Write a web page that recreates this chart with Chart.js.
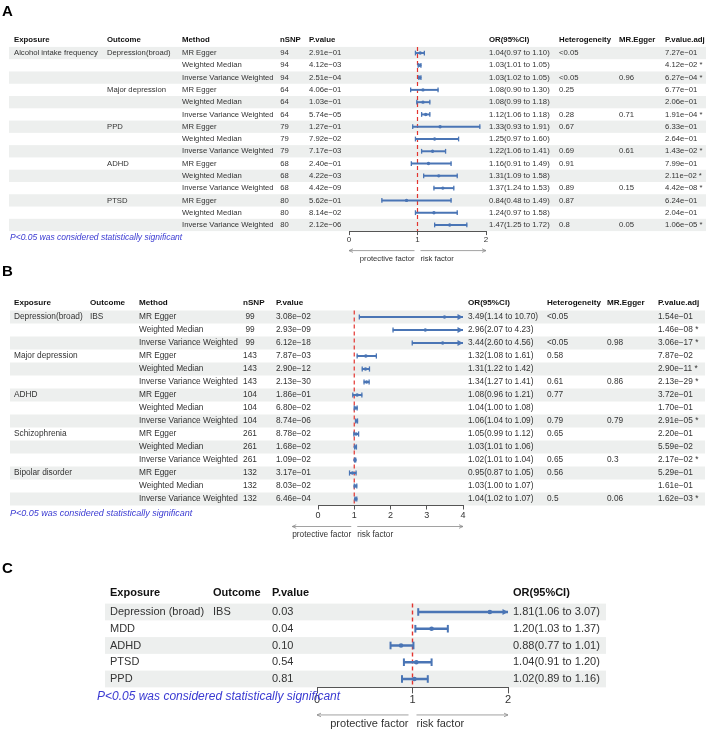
<!DOCTYPE html>
<html>
<head>
<meta charset="utf-8">
<script src="https://cdn.jsdelivr.net/npm/chart.js@4.4.1/dist/chart.umd.min.js"></script>
<style>
  body { margin: 0; background: #fff; width: 709px; height: 732px; overflow: hidden; }
  canvas { position: absolute; left: 0; }
</style>
</head>
<body>
<canvas id="panelA" width="709" height="265" style="top:0px"></canvas>
<canvas id="panelB" width="709" height="286" style="top:262px"></canvas>
<canvas id="panelC" width="709" height="184" style="top:548px"></canvas>
<script>
// ---- panel A: alcohol intake frequency -> psychiatric outcomes
const aExposure = ["Alcohol intake frequency", "", "", "", "", "", "", "", "", "", "", "", "", "", ""];
const aOutcome = ["Depression(broad)", "", "", "Major depression", "", "", "PPD", "", "", "ADHD", "", "", "PTSD", "", ""];
const aMethod = ["MR Egger", "Weighted Median", "Inverse Variance Weighted",
  "MR Egger", "Weighted Median", "Inverse Variance Weighted",
  "MR Egger", "Weighted Median", "Inverse Variance Weighted",
  "MR Egger", "Weighted Median", "Inverse Variance Weighted",
  "MR Egger", "Weighted Median", "Inverse Variance Weighted"];
const aNsnp = [94, 94, 94, 64, 64, 64, 79, 79, 79, 68, 68, 68, 80, 80, 80];
const aPvalue = ["2.91e-01", "4.12e-03", "2.51e-04", "4.06e-01", "1.03e-01", "5.74e-05", "1.27e-01", "7.92e-02",
  "7.17e-03", "2.40e-01", "4.22e-03", "4.42e-09", "5.62e-01", "8.14e-02", "2.12e-06"];
const aOR = [1.04, 1.03, 1.03, 1.08, 1.08, 1.12, 1.33, 1.25, 1.22, 1.16, 1.31, 1.37, 0.84, 1.24, 1.47];
const aLower = [0.97, 1.01, 1.02, 0.90, 0.99, 1.06, 0.93, 0.97, 1.06, 0.91, 1.09, 1.24, 0.48, 0.97, 1.25];
const aUpper = [1.10, 1.05, 1.05, 1.30, 1.18, 1.18, 1.91, 1.60, 1.41, 1.49, 1.58, 1.53, 1.49, 1.58, 1.72];
const aHetero = ["<0.05", "", "<0.05", "0.25", "", "0.28", "0.67", "", "0.69", "0.91", "", "0.89", "0.87", "", "0.8"];
const aEgger = ["", "", "0.96", "", "", "0.71", "", "", "0.61", "", "", "0.15", "", "", "0.05"];
const aPadj = ["7.27e-01", "4.12e-02 *", "6.27e-04 *", "6.77e-01", "2.06e-01", "1.91e-04 *", "6.33e-01", "2.64e-01",
  "1.43e-02 *", "7.99e-01", "2.11e-02 *", "4.42e-08 *", "6.24e-01", "2.04e-01", "1.06e-05 *"];
const aTicks = [0, 1, 2];

// ---- panel B: psychiatric exposures -> IBS
const bExposure = ["Depression(broad)", "", "", "Major depression", "", "", "ADHD", "", "", "Schizophrenia", "", "", "Bipolar disorder", "", ""];
const bOutcome = ["IBS", "", "", "", "", "", "", "", "", "", "", "", "", "", ""];
const bMethod = aMethod.slice();
const bNsnp = [99, 99, 99, 143, 143, 143, 104, 104, 104, 261, 261, 261, 132, 132, 132];
const bPvalue = ["3.08e-02", "2.93e-09", "6.12e-18", "7.87e-03", "2.90e-12", "2.13e-30", "1.86e-01", "6.80e-02",
  "8.74e-06", "8.78e-02", "1.68e-02", "1.09e-02", "3.17e-01", "8.03e-02", "6.46e-04"];
const bOR = [3.49, 2.96, 3.44, 1.32, 1.31, 1.34, 1.08, 1.04, 1.06, 1.05, 1.03, 1.02, 0.95, 1.03, 1.04];
const bLower = [1.14, 2.07, 2.60, 1.08, 1.22, 1.27, 0.96, 1.00, 1.04, 0.99, 1.01, 1.01, 0.87, 1.00, 1.02];
const bUpper = [10.70, 4.23, 4.56, 1.61, 1.42, 1.41, 1.21, 1.08, 1.09, 1.12, 1.06, 1.04, 1.05, 1.07, 1.07];
const bHetero = ["<0.05", "", "<0.05", "0.58", "", "0.61", "0.77", "", "0.79", "0.65", "", "0.65", "0.56", "", "0.5"];
const bEgger = ["", "", "0.98", "", "", "0.86", "", "", "0.79", "", "", "0.3", "", "", "0.06"];
const bPadj = ["1.54e-01", "1.46e-08 *", "3.06e-17 *", "7.87e-02", "2.90e-11 *", "2.13e-29 *", "3.72e-01", "1.70e-01",
  "2.91e-05 *", "2.20e-01", "5.59e-02", "2.17e-02 *", "5.29e-01", "1.61e-01", "1.62e-03 *"];
const bTicks = [0, 1, 2, 3, 4];

// ---- panel C: summary
const cExposure = ["Depression (broad)", "MDD", "ADHD", "PTSD", "PPD"];
const cOutcome = ["IBS", "", "", "", ""];
const cPvalue = ["0.03", "0.04", "0.10", "0.54", "0.81"];
const cOR = [1.81, 1.20, 0.88, 1.04, 1.02];
const cLower = [1.06, 1.03, 0.77, 0.91, 0.89];
const cUpper = [3.07, 1.37, 1.01, 1.20, 1.16];
const cTicks = [0, 1, 2];

const FONT = "'Liberation Sans', Arial, Helvetica, sans-serif";
const blue = "#4a75b5";
const note = "P<0.05 was considered statistically significant";

function orText(or, lo, hi) {
  return or.map((v, i) => v.toFixed(2) + "(" + lo[i].toFixed(2) + " to " + hi[i].toFixed(2) + ")");
}
function sci(list) {
  return list.map(s => s.replace("-", "\u2212"));
}

const panels = {};

const forestTable = {
  id: "forestTable",
  beforeDraw(chart) {
    const o = panels[chart.canvas.id];
    const { ctx, chartArea } = chart;
    const ys = chart.scales.y;
    const half = (chartArea.bottom - chartArea.top) / o.or.length / 2;
    ctx.save();
    ctx.fillStyle = "#edefee";
    for (let i = 0; i < o.or.length; i += 2) {
      const c = ys.getPixelForValue(i);
      ctx.fillRect(o.shade[0], c - half, o.shade[1] - o.shade[0], half * 2);
    }
    ctx.restore();
  },
  beforeDatasetsDraw(chart) {
    const o = panels[chart.canvas.id];
    const { ctx, chartArea } = chart;
    const x1 = chart.scales.x.getPixelForValue(1);
    ctx.save();
    ctx.strokeStyle = "#e3342f";
    ctx.lineWidth = o.refW;
    ctx.setLineDash([4, 3]);
    ctx.beginPath();
    ctx.moveTo(x1, chartArea.top);
    ctx.lineTo(x1, chartArea.bottom);
    ctx.stroke();
    ctx.restore();
  },
  afterDatasetsDraw(chart) {
    // whisker caps, or an arrow head when the interval runs past the axis
    const o = panels[chart.canvas.id];
    const { ctx } = chart;
    const xs = chart.scales.x, ys = chart.scales.y;
    ctx.save();
    ctx.strokeStyle = blue;
    ctx.fillStyle = blue;
    ctx.lineWidth = o.lineW;
    o.lower.forEach((lo, i) => {
      const yc = ys.getPixelForValue(i);
      const xl = xs.getPixelForValue(lo);
      ctx.beginPath();
      ctx.moveTo(xl, yc - o.cap);
      ctx.lineTo(xl, yc + o.cap);
      ctx.stroke();
      if (o.upper[i] > xs.max) {
        const tip = xs.getPixelForValue(xs.max);
        ctx.beginPath();
        ctx.moveTo(tip, yc);
        ctx.lineTo(tip - o.head, yc - o.head * 0.55);
        ctx.lineTo(tip - o.head, yc + o.head * 0.55);
        ctx.closePath();
        ctx.fill();
      } else {
        const xh = xs.getPixelForValue(o.upper[i]);
        ctx.beginPath();
        ctx.moveTo(xh, yc - o.cap);
        ctx.lineTo(xh, yc + o.cap);
        ctx.stroke();
      }
    });
    ctx.restore();
  },
  afterDraw(chart) {
    const o = panels[chart.canvas.id];
    const { ctx, chartArea } = chart;
    const xs = chart.scales.x, ys = chart.scales.y;
    ctx.save();

    ctx.fillStyle = "#000";
    ctx.font = "bold 15px " + FONT;
    ctx.textAlign = "left";
    ctx.textBaseline = "alphabetic";
    ctx.fillText(o.letter, 2, o.letterY);

    ctx.textBaseline = "middle";
    ctx.font = "bold " + o.headFont + "px " + FONT;
    ctx.fillStyle = "#111";
    const hy = chartArea.top - o.headDy;
    o.columns.forEach(c => ctx.fillText(c.title, c.x, hy));

    ctx.font = o.font + "px " + FONT;
    ctx.fillStyle = "#333";
    o.columns.forEach(c => {
      ctx.textAlign = c.cx ? "center" : "left";
      c.cells.forEach((t, i) => ctx.fillText(String(t), c.cx || c.x, ys.getPixelForValue(i)));
    });

    // protective / risk arrows under the axis
    const x0 = xs.left, x1 = xs.getPixelForValue(1), x2 = xs.right;
    const wl = ctx.measureText("protective factor").width;
    const wr = ctx.measureText("risk factor").width;
    const g = o.gap;
    const ay = chartArea.bottom + o.arrowDy;
    const la = Math.min(x0, x1 - g - wl), rb = Math.max(x2, x1 + g + wr);
    ctx.strokeStyle = "#8a8a8a";
    ctx.lineWidth = 0.8;
    ctx.beginPath();
    ctx.moveTo(x1 - g, ay); ctx.lineTo(la, ay);
    ctx.moveTo(la + 4, ay - 1.8); ctx.lineTo(la, ay); ctx.lineTo(la + 4, ay + 1.8);
    ctx.moveTo(x1 + g, ay); ctx.lineTo(rb, ay);
    ctx.moveTo(rb - 4, ay - 1.8); ctx.lineTo(rb, ay); ctx.lineTo(rb - 4, ay + 1.8);
    ctx.stroke();
    ctx.fillStyle = "#333";
    ctx.textAlign = "right";
    ctx.fillText("protective factor", x1 - g, chartArea.bottom + o.textDy);
    ctx.textAlign = "left";
    ctx.fillText("risk factor", x1 + g, chartArea.bottom + o.textDy);

    ctx.font = "italic " + o.footFont + "px " + FONT;
    ctx.fillStyle = "#3a3ad2";
    ctx.fillText(note, o.footX, chartArea.bottom + o.footDy);
    ctx.restore();
  }
};

function makeForest(canvasId, p) {
  panels[canvasId] = p;
  const canvas = document.getElementById(canvasId);
  const n = p.or.length;
  const rowIds = p.or.map((v, i) => String(i));
  const axisH = canvas.height - p.top - n * p.pitch;
  const xMin = p.ticks[0], xMax = p.ticks[p.ticks.length - 1];
  return new Chart(canvas, {
    type: "bar",
    data: {
      labels: rowIds,
      datasets: [
        {
          type: "bar",
          indexAxis: "y",
          data: p.lower.map((lo, i) => [lo, Math.min(p.upper[i], xMax)]),
          backgroundColor: blue,
          borderWidth: 0,
          barThickness: p.lineW
        },
        {
          type: "scatter",
          data: p.or.map((v, i) => ({ x: v, y: rowIds[i] })),
          pointRadius: p.pointR,
          backgroundColor: blue,
          borderWidth: 0
        }
      ]
    },
    options: {
      responsive: false,
      animation: false,
      devicePixelRatio: 1,
      layout: {
        autoPadding: false,
        padding: { left: p.left, right: canvas.width - p.right, top: p.top, bottom: 0 }
      },
      plugins: { legend: { display: false }, tooltip: { enabled: false } },
      scales: {
        x: {
          type: "linear",
          min: xMin,
          max: xMax,
          offset: false,
          afterBuildTicks: s => { s.ticks = p.ticks.map(v => ({ value: v })); },
          afterFit: s => { s.height = axisH; },
          grid: { offset: false, drawOnChartArea: false, drawTicks: true, tickLength: p.tickLen, color: "#555", lineWidth: 1 },
          border: { display: true, color: "#555", width: 1 },
          ticks: { padding: p.tickPad, color: "#333", font: { family: FONT, size: p.tickFont } }
        },
        y: { type: "category", display: false, offset: true, grid: { offset: true } }
      }
    },
    plugins: [forestTable]
  });
}

makeForest("panelA", {
  letter: "A", letterY: 15.5,
  or: aOR, lower: aLower, upper: aUpper, ticks: aTicks,
  left: 349, right: 486, top: 46.9, pitch: 12.28,
  font: 7.7, headFont: 7.8, headDy: 7, footFont: 8.5, footX: 10, footDy: 7,
  tickFont: 8, tickLen: 4, tickPad: 0,
  arrowDy: 19.5, textDy: 27.5, gap: 3,
  shade: [9, 706], lineW: 1.3, cap: 2.4, head: 5, pointR: 1.7, refW: 1.2,
  columns: [
    { title: "Exposure", x: 14, cells: aExposure },
    { title: "Outcome", x: 107, cells: aOutcome },
    { title: "Method", x: 182, cells: aMethod },
    { title: "nSNP", x: 280, cx: 284.5, cells: aNsnp },
    { title: "P.value", x: 309, cells: sci(aPvalue) },
    { title: "OR(95%CI)", x: 489, cells: orText(aOR, aLower, aUpper) },
    { title: "Heterogeneity", x: 559, cells: aHetero },
    { title: "MR.Egger", x: 619, cells: aEgger },
    { title: "P.value.adj", x: 665, cells: sci(aPadj) }
  ]
});

makeForest("panelB", {
  letter: "B", letterY: 13.5,
  or: bOR, lower: bLower, upper: bUpper, ticks: bTicks,
  left: 318, right: 463, top: 48.5, pitch: 13.0,
  font: 8.3, headFont: 8.1, headDy: 7.5, footFont: 9, footX: 10, footDy: 7.5,
  tickFont: 9, tickLen: 4, tickPad: 1,
  arrowDy: 21, textDy: 29.5, gap: 3,
  shade: [10, 705], lineW: 1.3, cap: 2.6, head: 5.5, pointR: 1.8, refW: 1.2,
  columns: [
    { title: "Exposure", x: 14, cells: bExposure },
    { title: "Outcome", x: 90, cells: bOutcome },
    { title: "Method", x: 139, cells: bMethod },
    { title: "nSNP", x: 243, cx: 250, cells: bNsnp },
    { title: "P.value", x: 276, cells: sci(bPvalue) },
    { title: "OR(95%CI)", x: 468, cells: orText(bOR, bLower, bUpper) },
    { title: "Heterogeneity", x: 547, cells: bHetero },
    { title: "MR.Egger", x: 607, cells: bEgger },
    { title: "P.value.adj", x: 658, cells: sci(bPadj) }
  ]
});

makeForest("panelC", {
  letter: "C", letterY: 24.5,
  or: cOR, lower: cLower, upper: cUpper, ticks: cTicks,
  left: 317, right: 508, top: 55.6, pitch: 16.75,
  font: 11, headFont: 11, headDy: 10.6, footFont: 12, footX: 97, footDy: 9.6,
  tickFont: 11, tickLen: 6, tickPad: 0,
  arrowDy: 27.6, textDy: 36.6, gap: 4,
  shade: [105, 606], lineW: 2, cap: 3.8, head: 5.5, pointR: 2.3, refW: 1.4,
  columns: [
    { title: "Exposure", x: 110, cells: cExposure },
    { title: "Outcome", x: 213, cells: cOutcome },
    { title: "P.value", x: 272, cells: cPvalue },
    { title: "OR(95%CI)", x: 513, cells: orText(cOR, cLower, cUpper) }
  ]
});
</script>
</body>
</html>
